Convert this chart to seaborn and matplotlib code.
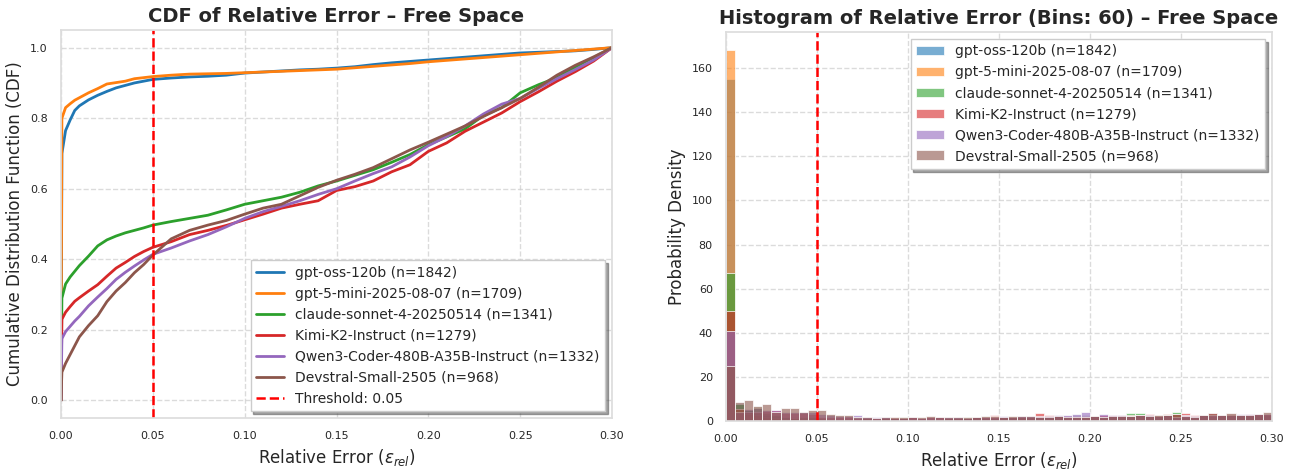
import numpy as np
import pandas as pd
import matplotlib
matplotlib.use("Agg")
import matplotlib.pyplot as plt
import seaborn as sns

models = ["gpt-oss-120b", "gpt-5-mini-2025-08-07", "claude-sonnet-4-20250514",
          "Kimi-K2-Instruct", "Qwen3-Coder-480B-A35B-Instruct", "Devstral-Small-2505"]
counts = [1842, 1709, 1341, 1279, 1332, 968]
threshold = 0.05

# CDF at these relative-error values
cdf_x = [0, 0.0005, 0.0025, 0.005, 0.0075, 0.01, 0.015, 0.02, 0.025, 0.03, 0.035, 0.04, 0.045,
         0.05, 0.06, 0.07, 0.08, 0.09, 0.10, 0.11, 0.12, 0.13, 0.14, 0.15, 0.16, 0.17, 0.18,
         0.19, 0.20, 0.21, 0.22, 0.23, 0.24, 0.25, 0.26, 0.27, 0.28, 0.29, 0.30]
cdf_gpt_oss = [0, 0.70, 0.765, 0.795, 0.822, 0.835, 0.852, 0.865, 0.876, 0.886, 0.893, 0.900, 0.905,
               0.910, 0.914, 0.917, 0.919, 0.922, 0.928, 0.931, 0.934, 0.937, 0.939, 0.942, 0.946,
               0.952, 0.957, 0.961, 0.965, 0.969, 0.973, 0.977, 0.981, 0.985, 0.987, 0.989, 0.991,
               0.995, 1.0]
cdf_gpt5_mini = [0, 0.80, 0.83, 0.841, 0.851, 0.858, 0.872, 0.884, 0.897, 0.901, 0.905, 0.912, 0.915,
                 0.918, 0.922, 0.925, 0.926, 0.927, 0.929, 0.931, 0.933, 0.935, 0.937, 0.939, 0.943,
                 0.947, 0.951, 0.955, 0.960, 0.964, 0.968, 0.972, 0.976, 0.980, 0.984, 0.988, 0.992,
                 0.996, 1.0]
cdf_claude = [0, 0.29, 0.33, 0.350, 0.366, 0.382, 0.409, 0.438, 0.455, 0.466, 0.475, 0.482, 0.489,
              0.497, 0.507, 0.516, 0.525, 0.540, 0.556, 0.566, 0.576, 0.590, 0.608, 0.622, 0.638,
              0.654, 0.675, 0.697, 0.725, 0.747, 0.770, 0.808, 0.830, 0.872, 0.895, 0.915, 0.945,
              0.972, 1.0]
cdf_kimi = [0, 0.23, 0.250, 0.266, 0.281, 0.291, 0.310, 0.328, 0.352, 0.375, 0.391, 0.408, 0.422,
            0.434, 0.450, 0.470, 0.482, 0.496, 0.512, 0.528, 0.545, 0.556, 0.566, 0.595, 0.606,
            0.622, 0.648, 0.668, 0.706, 0.730, 0.763, 0.789, 0.815, 0.847, 0.875, 0.905, 0.932,
            0.962, 1.0]
cdf_qwen = [0, 0.175, 0.195, 0.210, 0.225, 0.238, 0.268, 0.293, 0.317, 0.343, 0.363, 0.381, 0.398,
            0.414, 0.432, 0.452, 0.470, 0.492, 0.516, 0.535, 0.550, 0.566, 0.584, 0.600, 0.622,
            0.643, 0.662, 0.690, 0.722, 0.748, 0.778, 0.812, 0.840, 0.856, 0.885, 0.912, 0.938,
            0.965, 1.0]
cdf_devstral = [0, 0.08, 0.105, 0.130, 0.155, 0.180, 0.212, 0.240, 0.280, 0.310, 0.334, 0.362, 0.385,
                0.412, 0.458, 0.482, 0.497, 0.510, 0.528, 0.545, 0.556, 0.580, 0.604, 0.624, 0.641,
                0.660, 0.685, 0.710, 0.732, 0.755, 0.778, 0.805, 0.830, 0.856, 0.888, 0.922, 0.950,
                0.974, 1.0]

# Histogram densities, 60 bins over [0, 0.3]
hist_gpt_oss = [155, 8, 5, 3.5, 2.8, 2.2, 2.0, 1.6, 1.5, 1.2,
                0.5, 0.4, 0.3, 0.3, 0.2, 0.3, 0.2, 0.3, 0.2, 0.3,
                0.3, 0.2, 0.3, 0.2, 0.3, 0.2, 0.3, 0.3, 0.2, 0.3,
                0.4, 0.5, 0.4, 0.6, 0.5, 0.4, 0.5, 0.4, 0.5, 0.4,
                0.4, 0.4, 0.5, 0.3, 0.4, 0.4, 0.4, 0.4, 0.5, 0.3,
                0.3, 0.3, 0.2, 0.3, 0.3, 0.4, 0.3, 0.3, 0.3, 0.3]
hist_gpt5_mini = [168, 3.5, 3.0, 2.5, 2.0, 1.4, 0.8, 1.2, 0.8, 0.8,
                  0.3, 0.2, 0.3, 0.2, 0.1, 0.2, 0.1, 0.2, 0.1, 0.1,
                  0.2, 0.2, 0.2, 0.2, 0.2, 0.2, 0.2, 0.2, 0.2, 0.2,
                  0.4, 0.4, 0.5, 0.4, 0.4, 0.4, 0.5, 0.4, 0.4, 0.4,
                  0.4, 0.4, 0.4, 0.4, 0.4, 0.4, 0.4, 0.4, 0.4, 0.4,
                  0.4, 0.4, 0.4, 0.4, 0.4, 0.4, 0.4, 0.4, 0.4, 0.4]
hist_claude = [67, 7.5, 5.0, 6.5, 3.8, 2.6, 2.0, 1.4, 1.6, 2.0,
               1.2, 1.0, 1.0, 0.9, 1.0, 1.2, 1.0, 1.5, 1.4, 1.6,
               1.0, 1.0, 1.1, 1.0, 1.4, 1.4, 1.6, 2.0, 1.5, 1.2,
               1.6, 1.6, 1.6, 1.7, 2.2, 2.2, 2.3, 2.4, 2.8, 2.8,
               2.2, 2.4, 2.3, 2.6, 3.5, 3.8, 2.6, 2.9, 3.0, 4.1,
               2.0, 2.2, 2.6, 2.4, 2.8, 2.6, 2.5, 2.6, 2.7, 2.6]
hist_kimi = [50, 5.5, 4.0, 4.0, 4.5, 5.0, 3.6, 3.5, 3.4, 3.3,
             1.8, 1.6, 1.8, 1.6, 1.4, 1.5, 1.4, 1.5, 1.6, 1.4,
             1.6, 1.4, 1.7, 1.6, 1.3, 1.5, 1.4, 1.6, 2.0, 2.7,
             1.6, 1.8, 1.9, 2.0, 3.6, 2.6, 2.3, 2.1, 2.3, 2.2,
             2.4, 2.5, 2.7, 2.6, 2.8, 2.9, 3.0, 2.8, 3.1, 3.0,
             3.6, 2.6, 2.8, 3.4, 2.9, 3.3, 2.8, 3.0, 3.1, 3.1]
hist_qwen = [41, 4.0, 5.5, 6.0, 5.0, 5.0, 4.0, 4.0, 4.2, 4.1,
             3.0, 2.8, 2.4, 2.2, 2.6, 1.6, 1.7, 1.8, 1.4, 1.3,
             1.6, 1.5, 1.7, 1.6, 1.7, 1.8, 1.5, 1.6, 1.7, 1.7,
             2.2, 2.0, 2.4, 2.3, 2.2, 2.4, 2.6, 2.8, 3.2, 3.9,
             2.4, 3.2, 2.5, 2.6, 2.4, 2.5, 2.6, 2.4, 2.6, 2.0,
             2.6, 2.4, 2.6, 2.8, 2.7, 2.8, 3.2, 3.3, 3.2, 3.2]
hist_devstral = [25, 8.5, 9.4, 6.7, 7.7, 4.1, 6.1, 5.8, 4.1, 5.0,
                 5.2, 3.2, 2.6, 2.6, 1.8, 1.7, 1.5, 1.6, 1.8, 1.6,
                 2.0, 1.6, 2.2, 2.0, 2.0, 1.8, 2.0, 1.8, 2.2, 2.4,
                 2.0, 2.2, 2.1, 2.2, 1.8, 2.0, 2.2, 1.9, 2.0, 2.0,
                 2.2, 2.0, 2.3, 2.4, 2.2, 2.5, 2.4, 2.7, 2.9, 3.0,
                 2.4, 2.0, 2.6, 3.6, 2.5, 3.5, 2.6, 2.9, 3.0, 3.9]

cdfs = [cdf_gpt_oss, cdf_gpt5_mini, cdf_claude, cdf_kimi, cdf_qwen, cdf_devstral]
hists = [hist_gpt_oss, hist_gpt5_mini, hist_claude, hist_kimi, hist_qwen, hist_devstral]
n_bins = 60
x_range = (0.0, 0.30)

sns.set_theme(style="whitegrid")
plt.rcParams['font.family'] = ['DejaVu Sans']
colors = sns.color_palette("tab10", 6)

fig = plt.figure(figsize=(12.92, 4.70), dpi=100)
ax1 = fig.add_axes([0.0472, 0.1106, 0.4265, 0.8255])
ax2 = fig.add_axes([0.5619, 0.1043, 0.4226, 0.8277])

labels = [f"{m} (n={n})" for m, n in zip(models, counts)]

# CDF panel
for y, c, lab in zip(cdfs, colors, labels):
    sns.lineplot(x=cdf_x, y=y, color=c, lw=2, label=lab, ax=ax1,
                 estimator=None, sort=False)
ax1.axvline(threshold, color="red", ls="--", lw=1.8, label=f"Threshold: {threshold}")
ax1.set_xlim(*x_range)
ax1.set_ylim(-0.05, 1.05)
ax1.set_title("CDF of Relative Error – Free Space", fontsize=14, fontweight="bold")
ax1.set_xlabel(r"Relative Error ($\varepsilon_{rel}$)", fontsize=12)
ax1.set_ylabel("Cumulative Distribution Function (CDF)", fontsize=12)
ax1.legend(loc="lower right", fontsize=10, shadow=True, framealpha=1, fancybox=False)

# Histogram panel
edges = np.linspace(x_range[0], x_range[1], n_bins + 1)
centers = (edges[:-1] + edges[1:]) / 2
for h, c, lab in zip(hists, colors, labels):
    df = pd.DataFrame({"err": centers, "dens": h})
    sns.histplot(data=df, x="err", weights="dens", bins=n_bins, binrange=x_range,
                 color=c, alpha=0.6, label=lab,
                 edgecolor="white", linewidth=0.5, ax=ax2)
ax2.axvline(threshold, color="red", ls="--", lw=1.8)
ax2.set_xlim(*x_range)
ax2.set_title(f"Histogram of Relative Error (Bins: {n_bins}) – Free Space", fontsize=14, fontweight="bold")
ax2.set_xlabel(r"Relative Error ($\varepsilon_{rel}$)", fontsize=12)
ax2.set_ylabel("Probability Density", fontsize=12)
ax2.legend(loc="upper right", fontsize=10, shadow=True, framealpha=1, fancybox=False)

for ax in (ax1, ax2):
    ax.grid(True, linestyle="--", alpha=0.7)
    ax.tick_params(labelsize=8)
    for s in ax.spines.values():
        s.set_edgecolor("#dddddd")

fig.savefig("out.png", dpi=100)
